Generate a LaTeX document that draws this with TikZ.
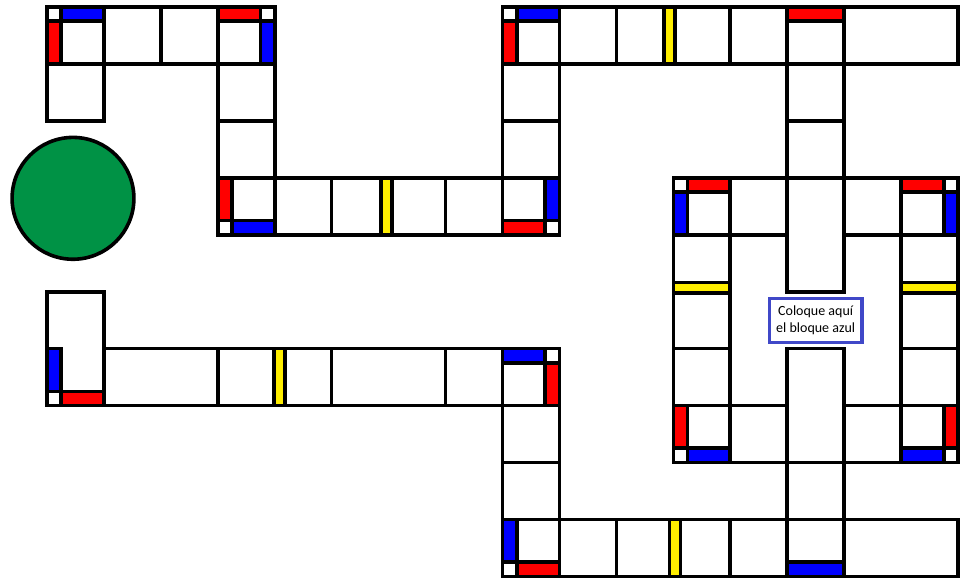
\documentclass[tikz,border=0pt]{standalone}
\usepackage{fontspec}
\newfontfamily\boxfont{Carlito}
\definecolor{mgreen}{RGB}{0,146,69}
\definecolor{mblue}{RGB}{0,0,255}
\definecolor{mred}{RGB}{255,0,0}
\definecolor{myellow}{RGB}{255,238,0}
\definecolor{boxblue}{RGB}{64,72,200}
\newcommand{\stripw}{0.25}
\newcommand{\yw}{0.095}
\tikzset{
  cellst/.style={draw=black, line width=1.8pt, fill=white, line join=miter},
  textbox/.style={draw=boxblue, line width=1.6pt, fill=white, minimum width=1.63cm, minimum height=0.77cm, align=center, inner sep=1pt, font=\boxfont\fontsize{7}{8.4}\selectfont}
}
% plain cell
\newcommand{\mycell}[4]{\draw[cellst] (#1,#2) rectangle (#3,#4);}
\newcommand{\mybar}[5]{\draw[cellst,fill=#5] (#1,#2) rectangle (#3,#4);}
% corner strips: x y Hcolor Vcolor
\newcommand{\cTL}[4]{%
  \draw[cellst] (#1,#2) rectangle ({#1+\stripw},{#2+\stripw});
  \draw[cellst,fill=#3] ({#1+\stripw},#2) rectangle ({#1+1},{#2+\stripw});
  \draw[cellst,fill=#4] (#1,{#2+\stripw}) rectangle ({#1+\stripw},{#2+1});}
\newcommand{\cTR}[4]{%
  \draw[cellst] ({#1+1-\stripw},#2) rectangle ({#1+1},{#2+\stripw});
  \draw[cellst,fill=#3] (#1,#2) rectangle ({#1+1-\stripw},{#2+\stripw});
  \draw[cellst,fill=#4] ({#1+1-\stripw},{#2+\stripw}) rectangle ({#1+1},{#2+1});}
\newcommand{\cBL}[4]{%
  \draw[cellst] (#1,{#2+1-\stripw}) rectangle ({#1+\stripw},{#2+1});
  \draw[cellst,fill=#3] ({#1+\stripw},{#2+1-\stripw}) rectangle ({#1+1},{#2+1});
  \draw[cellst,fill=#4] (#1,#2) rectangle ({#1+\stripw},{#2+1-\stripw});}
\newcommand{\cBR}[4]{%
  \draw[cellst] ({#1+1-\stripw},{#2+1-\stripw}) rectangle ({#1+1},{#2+1});
  \draw[cellst,fill=#3] (#1,{#2+1-\stripw}) rectangle ({#1+1-\stripw},{#2+1});
  \draw[cellst,fill=#4] ({#1+1-\stripw},#2) rectangle ({#1+1},{#2+1-\stripw});}
% yellow bars
\newcommand{\yv}[2]{\draw[cellst,fill=myellow] ({#1-\yw},#2) rectangle ({#1+\yw},{#2+1});}
\newcommand{\yh}[2]{\draw[cellst,fill=myellow] (#1,{#2-\yw}) rectangle ({#1+1},{#2+\yw});}
\begin{document}
\begin{tikzpicture}[yscale=-1]
\useasboundingbox (-0.825,-0.123) rectangle (16.105,10.099);
% ---------- cells: group A (top-left)
\mycell{0}{0}{1}{1}\mycell{1}{0}{2}{1}\mycell{2}{0}{3}{1}\mycell{3}{0}{4}{1}
\mycell{0}{1}{1}{2}
\mycell{3}{1}{4}{2}\mycell{3}{2}{4}{3}
\mycell{3}{3}{4}{4}\mycell{4}{3}{5}{4}\mycell{5}{3}{6}{4}\mycell{6}{3}{7}{4}\mycell{7}{3}{8}{4}\mycell{8}{3}{9}{4}
\mycell{8}{1}{9}{2}\mycell{8}{2}{9}{3}
% ---------- group B (top-right)
\mycell{8}{0}{9}{1}\mycell{9}{0}{10}{1}\mycell{10}{0}{11}{1}\mycell{11}{0}{12}{1}\mycell{12}{0}{13}{1}\mycell{13}{0}{14}{1}\mycell{14}{0}{16}{1}
\mycell{13}{1}{14}{2}\mycell{13}{2}{14}{3}\mycell{13}{3}{14}{5}
% ---------- group C (square)
\mycell{11}{3}{12}{4}\mycell{12}{3}{13}{4}\mycell{14}{3}{15}{4}\mycell{15}{3}{16}{4}
\mycell{11}{4}{12}{5}\mycell{11}{5}{12}{6}\mycell{11}{6}{12}{7}\mycell{11}{7}{12}{8}
\mycell{15}{4}{16}{5}\mycell{15}{5}{16}{6}\mycell{15}{6}{16}{7}\mycell{15}{7}{16}{8}
\mycell{12}{7}{13}{8}\mycell{14}{7}{15}{8}
\mycell{13}{6}{14}{8}\mycell{13}{8}{14}{9}
% ---------- group D (bottom-left)
\mycell{0}{5}{1}{7}
\mycell{1}{6}{3}{7}\mycell{3}{6}{4}{7}\mycell{4}{6}{5}{7}\mycell{5}{6}{7}{7}\mycell{7}{6}{8}{7}\mycell{8}{6}{9}{7}
\mycell{8}{7}{9}{8}\mycell{8}{8}{9}{9}
% ---------- group E (bottom)
\mycell{8}{9}{9}{10}\mycell{9}{9}{10}{10}\mycell{10}{9}{11}{10}\mycell{11}{9}{12}{10}\mycell{12}{9}{13}{10}\mycell{13}{9}{14}{10}\mycell{14}{9}{16}{10}
% ---------- corner strips
\cTL{0}{0}{mblue}{mred}
\cTR{3}{0}{mred}{mblue}
\cBL{3}{3}{mblue}{mred}
\cBR{8}{3}{mred}{mblue}
\cTL{8}{0}{mblue}{mred}
\cTL{11}{3}{mred}{mblue}
\cTR{15}{3}{mred}{mblue}
\cBL{11}{7}{mblue}{mred}
\cBR{15}{7}{mblue}{mred}
\cBL{0}{6}{mred}{mblue}
\cTR{8}{6}{mblue}{mred}
\cBL{8}{9}{mred}{mblue}
% ---------- single bars
\mybar{13}{0}{14}{\stripw}{mred}
\mybar{13}{9.75}{14}{10}{mblue}
% ---------- yellow bars
\yv{10.93}{0}
\yv{5.96}{3}
\yv{4.08}{6}
\yv{11.03}{9}
\yh{11}{4.93}
\yh{15}{4.93}
% ---------- green circle
\draw[draw=black, line width=1.8pt, fill=mgreen] (0.457,3.36) circle (1.07);
% ---------- label
\node[textbox] (label) at (13.5,5.5) {Coloque aquí\\el bloque azul};
\end{tikzpicture}
\end{document}
